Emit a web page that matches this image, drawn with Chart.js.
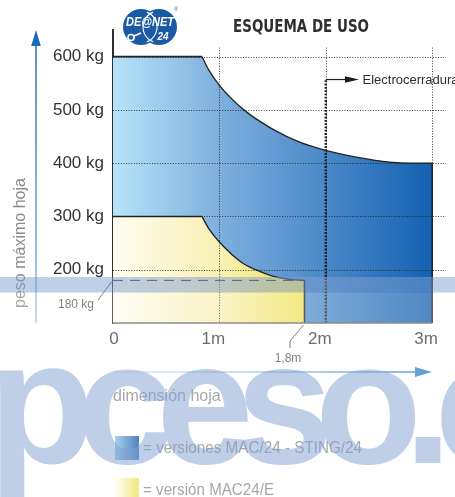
<!DOCTYPE html>
<html>
<head>
<meta charset="utf-8">
<script src="https://cdn.jsdelivr.net/npm/chart.js@4.4.1/dist/chart.umd.min.js"></script>
<style>
  html, body { margin: 0; padding: 0; background: #fff; overflow: hidden; }
  #wrap { position: relative; width: 455px; height: 497px; }
</style>
</head>
<body>
<div id="wrap"><canvas id="c" width="455" height="497"></canvas></div>
<script>
// Leaf width (m) against maximum leaf weight (kg)
const blueFlatM   = [0, 0.8365];
const blueFlatKg  = [600, 600];
const blueCurveM  = [0.8365, 0.9, 1.0, 1.23, 1.5, 1.76, 2.0, 2.3, 2.6, 2.8, 3.0];
const blueCurveKg = [600, 575, 546, 500, 464, 439, 424, 411, 402, 400, 400];
const yellowFlatM   = [0, 0.8365];
const yellowFlatKg  = [300, 300];
const yellowCurveM  = [0.8365, 0.9, 1.0, 1.2, 1.34, 1.5, 1.65, 1.8];
const yellowCurveKg = [300, 277, 252, 215, 200, 188, 182, 180];
const limitKg = 180;        // MAC24/E weight mark
const limitM = 1.8;         // MAC24/E width limit
const blueEndM = 3;
const blueEndKg = 400;
const lockM = 2;            // electric lock
const lockTopKg = 557;
const baseKg = 100;
const topKg = 650;
const maxM = 3.13;
const weightTicks = [200, 300, 400, 500, 600];
const widthTicks = [0, 1, 2, 3];
const widthLabels = ['0', '1m', '2m', '3m'];

const FONT = '"Liberation Sans", Arial, sans-serif';
const pts = (xs, ys) => xs.map((x, i) => ({ x, y: ys[i] }));

function blueFill(ctx) {
  const chart = ctx.chart;
  if (!chart.chartArea) return '#6fa3d8';
  const X = chart.scales.x;
  const g = chart.ctx.createLinearGradient(X.getPixelForValue(0), 0, X.getPixelForValue(blueEndM), 0);
  g.addColorStop(0, '#b6e4f8');
  g.addColorStop(0.33, '#7fb0de');
  g.addColorStop(1, '#1461b1');
  return g;
}
function yellowFill(ctx) {
  const chart = ctx.chart;
  if (!chart.chartArea) return '#f6ec9a';
  const X = chart.scales.x;
  const g = chart.ctx.createLinearGradient(X.getPixelForValue(0), 0, X.getPixelForValue(limitM), 0);
  g.addColorStop(0, '#fffdf1');
  g.addColorStop(0.55, '#f8f0b4');
  g.addColorStop(1, '#f0e25a');
  return g;
}

const EDGE = '#262626';
const datasets = [
  { data: pts(blueFlatM, blueFlatKg), fill: 'start', backgroundColor: blueFill,
    borderColor: EDGE, borderWidth: 1.6, pointRadius: 0, order: 10 },
  { data: pts(blueCurveM, blueCurveKg), fill: 'start', backgroundColor: blueFill,
    borderColor: EDGE, borderWidth: 1.4, pointRadius: 0, cubicInterpolationMode: 'monotone', order: 10 },
  { data: pts([blueEndM, blueEndM], [baseKg, blueEndKg]), fill: false,
    borderColor: EDGE, borderWidth: 1.6, pointRadius: 0, order: 9 },
  { data: pts(yellowFlatM, yellowFlatKg), fill: 'start', backgroundColor: yellowFill,
    borderColor: EDGE, borderWidth: 1.6, pointRadius: 0, order: 8 },
  { data: pts(yellowCurveM, yellowCurveKg), fill: 'start', backgroundColor: yellowFill,
    borderColor: EDGE, borderWidth: 1.4, pointRadius: 0, cubicInterpolationMode: 'monotone', order: 8 },
  { data: pts([limitM, limitM], [baseKg, limitKg]), fill: false,
    borderColor: EDGE, borderWidth: 1.6, pointRadius: 0, order: 7 },
  { data: pts([0, limitM], [limitKg, limitKg]), fill: false,
    borderColor: '#2a2a2a', borderWidth: 1, borderDash: [10, 7], pointRadius: 0, order: 5 },
  { data: pts([lockM, lockM], [baseKg, lockTopKg]), fill: false,
    borderColor: '#1e1e1e', borderWidth: 2.4, borderDash: [1.8, 1.5], pointRadius: 0, order: 4 }
];

// dotted grid drawn over the coloured areas
const gridOver = {
  id: 'gridOver',
  afterDatasetsDraw(chart) {
    const c = chart.ctx, a = chart.chartArea;
    const X = chart.scales.x, Y = chart.scales.y;
    c.save();
    c.setLineDash([1, 1.6]);
    c.strokeStyle = 'rgba(30,30,30,0.85)';
    c.lineWidth = 1;
    weightTicks.forEach(v => {
      const y = Math.round(Y.getPixelForValue(v)) + 0.5;
      c.beginPath(); c.moveTo(a.left, y); c.lineTo(a.right, y); c.stroke();
    });
    const top = Y.getPixelForValue(600) - 9;
    widthTicks.slice(1).forEach(v => {
      const x = Math.round(X.getPixelForValue(v)) + 0.5;
      c.beginPath(); c.moveTo(x, top); c.lineTo(x, a.bottom); c.stroke();
    });
    c.restore();
  }
};

function arrowHead(c, tipX, tipY, dir, len, half, color) {
  c.fillStyle = color;
  c.beginPath();
  if (dir === 'up') {
    c.moveTo(tipX, tipY); c.lineTo(tipX - half, tipY + len); c.lineTo(tipX + half, tipY + len);
  } else {
    c.moveTo(tipX, tipY); c.lineTo(tipX - len, tipY - half); c.lineTo(tipX - len, tipY + half);
  }
  c.closePath(); c.fill();
}

function drawLogo(c) {
  c.save();
  const blue = '#1b5ba6';
  c.fillStyle = blue;
  c.beginPath(); c.arc(141, 27, 18, 0, Math.PI * 2); c.fill();
  c.beginPath(); c.arc(159, 27, 18, 0, Math.PI * 2); c.fill();
  c.strokeStyle = '#ffffff'; c.lineWidth = 1.1;
  c.beginPath(); c.arc(159, 27, 16, Math.PI * 0.62, Math.PI * 1.38); c.stroke();
  c.beginPath(); c.arc(141, 27, 16, -Math.PI * 0.38, Math.PI * 0.38); c.stroke();
  c.fillStyle = '#ffffff';
  c.font = 'italic bold 12.5px ' + FONT;
  c.textAlign = 'center'; c.textBaseline = 'middle';
  c.fillText('DE@NET', 150, 23, 48);
  c.font = 'italic bold 10px ' + FONT;
  c.fillText('24', 163, 37);
  c.lineWidth = 1.6;
  c.beginPath(); c.arc(131, 37.5, 3, 0, Math.PI * 2); c.stroke();
  c.beginPath(); c.moveTo(134, 36); c.lineTo(141, 33); c.stroke();
  c.fillStyle = blue;
  c.font = '5px ' + FONT;
  c.fillText('®', 176, 10);
  c.restore();
}

const decor = {
  id: 'decor',
  afterDraw(chart) {
    const c = chart.ctx, a = chart.chartArea;
    const X = chart.scales.x, Y = chart.scales.y;
    const px = v => X.getPixelForValue(v), py = v => Y.getPixelForValue(v);
    c.save();

    // baseline
    c.strokeStyle = '#666'; c.lineWidth = 1.5;
    c.beginPath(); c.moveTo(a.left, a.bottom); c.lineTo(px(blueEndM), a.bottom); c.stroke();

    // width labels
    c.fillStyle = '#3a3a3a';
    c.font = '17px ' + FONT;
    c.textAlign = 'center'; c.textBaseline = 'middle';
    widthTicks.forEach((v, i) => {
      const off = v === 0 ? 1 : -6;
      c.fillText(widthLabels[i], px(v) + off, 339);
    });

    // 180 kg call-out
    c.font = '12px ' + FONT; c.fillStyle = '#555';
    c.fillText(limitKg + ' kg', 76, 305);
    c.strokeStyle = '#555'; c.lineWidth = 1;
    c.beginPath(); c.moveTo(98, 300); c.lineTo(px(0) - 1, py(limitKg) + 1); c.stroke();

    // 1,8m call-out
    c.fillText('1,8m', 288, 359);
    c.beginPath(); c.moveTo(290, 348); c.lineTo(290, 341); c.lineTo(px(limitM) - 1, a.bottom + 2); c.stroke();

    // electric lock marker
    const ly = py(lockTopKg), lx = px(lockM);
    c.strokeStyle = '#1e1e1e'; c.lineWidth = 1.2;
    c.beginPath(); c.moveTo(lx, ly); c.lineTo(346, ly); c.stroke();
    arrowHead(c, 359, ly, 'right', 14, 3.3, '#1e1e1e');
    c.fillStyle = '#2e2e2e'; c.font = '13px ' + FONT;
    c.textAlign = 'left';
    c.fillText('Electrocerradura', 362.5, ly + 0.5);

    // title
    c.fillStyle = '#2e2e2e';
    c.font = 'bold 17px "Liberation Sans Narrow", "DejaVu Sans Condensed", ' + FONT;
    c.textAlign = 'left';
    c.fillText('ESQUEMA DE USO', 233, 28, 136);

    drawLogo(c);

    // vertical axis arrow
    const gv = c.createLinearGradient(0, 30, 0, 323);
    gv.addColorStop(0, '#1a6cb6'); gv.addColorStop(1, '#8ebde6');
    c.strokeStyle = gv; c.lineWidth = 1.5;
    c.beginPath(); c.moveTo(36, 44); c.lineTo(36, 323); c.stroke();
    arrowHead(c, 36, 30, 'up', 16, 4.8, '#1a6cb6');

    // horizontal axis arrow
    const gh = c.createLinearGradient(113, 0, 420, 0);
    gh.addColorStop(0, 'rgba(160,200,236,0.5)'); gh.addColorStop(1, '#2a7fc6');
    c.strokeStyle = gh; c.lineWidth = 1.5;
    c.beginPath(); c.moveTo(113, 372); c.lineTo(418, 372); c.stroke();
    arrowHead(c, 432, 372, 'right', 17, 5, '#2f82c8');

    // axis titles
    c.fillStyle = '#8a8a8a'; c.font = '16px ' + FONT;
    c.textAlign = 'left';
    c.fillText('dimensión hoja', 113, 397);
    c.save();
    c.translate(21, 243); c.rotate(-Math.PI / 2);
    c.textAlign = 'center';
    c.fillText('peso máximo hoja', 0, 0);
    c.restore();

    // legend
    const lb = c.createLinearGradient(115, 0, 139, 0);
    lb.addColorStop(0, '#8fc0e8'); lb.addColorStop(1, '#1458a8');
    c.fillStyle = lb; c.fillRect(115, 436, 24, 24);
    const lyel = c.createLinearGradient(115, 0, 139, 0);
    lyel.addColorStop(0, '#fffef4'); lyel.addColorStop(1, '#efe050');
    c.fillStyle = lyel; c.fillRect(115, 478, 24, 24);
    c.fillStyle = '#8a8a8a'; c.font = '16px ' + FONT;
    c.fillText('= versiones MAC/24 - STING/24', 143, 449, 219);
    c.fillText('= versión MAC24/E', 143, 491, 131);

    // site stamp across the lower half
    c.fillStyle = 'rgba(255,255,255,0.25)';
    c.fillRect(0, 292.5, 455, 205);
    const off = document.createElement('canvas');
    off.width = 455; off.height = 497;
    const o = off.getContext('2d');
    o.fillStyle = 'rgb(130,160,210)';
    o.fillRect(0, 277, 455, 15.5);
    o.font = 'bold 175px ' + FONT;
    o.letterSpacing = '-18px';
    o.textBaseline = 'alphabetic';
    o.fillText('pceso.c', -12, 463);
    c.globalAlpha = 0.5;
    c.drawImage(off, 0, 0);
    c.globalAlpha = 1;

    c.restore();
  }
};

new Chart(document.getElementById('c'), {
  type: 'line',
  data: { datasets },
  options: {
    responsive: false,
    animation: false,
    events: [],
    layout: { padding: { top: 30, right: 9, bottom: 174, left: 0 } },
    plugins: { legend: { display: false }, tooltip: { enabled: false } },
    scales: {
      x: { type: 'linear', min: 0, max: maxM, display: false },
      y: {
        type: 'linear', min: baseKg, max: topKg,
        afterFit(s) { s.width = 113; },
        afterBuildTicks(s) { s.ticks = weightTicks.map(v => ({ value: v })); },
        grid: { display: false, drawTicks: false },
        border: { display: true, color: '#2e2e2e', width: 2 },
        ticks: {
          padding: 9,
          color: '#333',
          font: { family: 'Liberation Sans', size: 17 },
          callback: v => v + ' kg'
        }
      }
    }
  },
  plugins: [gridOver, decor]
});
</script>
</body>
</html>
